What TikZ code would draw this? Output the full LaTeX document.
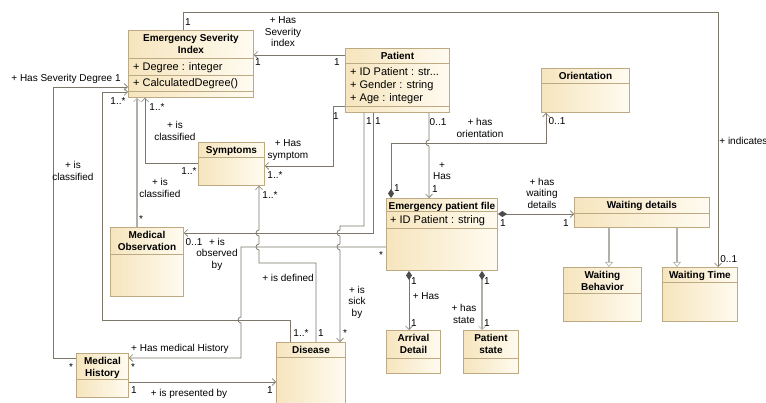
\documentclass[tikz,border=0pt]{standalone}
\usepackage{fontspec}
\setmainfont{Liberation Sans}
\usetikzlibrary{arrows.meta,calc}

\definecolor{boxline}{RGB}{190,170,130}
\definecolor{creamA}{RGB}{246,229,190}
\definecolor{creamB}{RGB}{255,251,240}
\definecolor{wire}{RGB}{125,119,105}
\definecolor{wirelight}{RGB}{178,175,168}

\begin{document}
\begin{tikzpicture}[x=1pt, y=-1pt,
    every node/.style={text=black},
    cls/.style={draw=boxline, line width=0.9pt, left color=creamA, right color=creamB,
                anchor=north west, inner sep=0pt},
    ttl/.style={anchor=north, inner sep=4.5pt, align=center,
                font=\fontsize{10}{12}\selectfont\bfseries},
    att/.style={anchor=base west, inner sep=0pt, font=\fontsize{11}{13}\selectfont},
    lbl/.style={inner sep=0pt, align=center, font=\fontsize{10}{11.5}\selectfont},
    sepline/.style={draw=boxline, line width=0.9pt},
    assoc/.style={draw=wire, line width=0.8pt,
                  -{Straight Barb[length=3.5pt,width=7pt,line width=0.6pt]}},
    comp/.style={assoc, {Diamond[length=9pt,width=6pt,color=black!70]}-{Straight Barb[length=3.5pt,width=7pt,line width=0.6pt]}},
    faint/.style={draw=wirelight, line width=1.3pt},
    gen/.style={draw=wirelight, line width=1.3pt,
                -{Triangle[open,length=5pt,width=8pt,line width=0.6pt,fill=white]}}]
  \useasboundingbox (0,0) rectangle (766,403);
  \clip (0,0) rectangle (766,403);

  % classes
  \node[cls, minimum width=125pt, minimum height=67pt,
        label={[ttl]north:{Emergency Severity\\Index}}] (esi) at (128,30) {};
  \node[cls, minimum width=104pt, minimum height=64pt, label={[ttl]north:Patient}] (pat) at (345,48) {};
  \node[cls, minimum width=88pt, minimum height=44pt, label={[ttl]north:Orientation}] (ori) at (541,68) {};
  \node[cls, minimum width=66pt, minimum height=43pt, label={[ttl]north:Symptoms}] (sym) at (198,142) {};
  \node[cls, minimum width=73pt, minimum height=69pt,
        label={[ttl]north:{Medical\\Observation}}] (mo) at (110,227) {};
  \node[cls, minimum width=111pt, minimum height=72pt,
        label={[ttl]north:Emergency patient file}] (epf) at (386,198) {};
  \node[cls, minimum width=135pt, minimum height=30pt, label={[ttl]north:Waiting details}] (wd) at (574,197) {};
  \node[cls, minimum width=78pt, minimum height=54pt,
        label={[ttl]north:{Waiting\\Behavior}}] (wb) at (563,267) {};
  \node[cls, minimum width=75pt, minimum height=54pt, label={[ttl]north:Waiting Time}] (wt) at (662,267) {};
  \node[cls, minimum width=54pt, minimum height=43pt,
        label={[ttl]north:{Arrival\\Detail}}] (ad) at (386,330) {};
  \node[cls, minimum width=55pt, minimum height=43pt,
        label={[ttl]north:{Patient\\state}}] (ps) at (463,330) {};
  \node[cls, minimum width=69pt, minimum height=70pt, label={[ttl]north:Disease}] (dis) at (276,342) {};
  \node[cls, minimum width=52pt, minimum height=44pt,
        label={[ttl]north:{Medical\\History}}] (mh) at (76,353) {};

  \foreach \n/\y in {esi/58, esi/75, esi/91, pat/63, pat/106, ori/83, sym/157, mo/254,
                     epf/211, epf/228, wd/213, wb/293, wt/282, ad/358, ps/358, dis/357, mh/379}
    \draw[sepline] (\n.west |- 0,\y) -- (\n.east |- 0,\y);

  % attributes
  \node[att] (esi-a1) at (133,71) {+ Degree : integer};
  \node[att] (esi-a2) at (133,87) {+ CalculatedDegree()};
  \node[att] (pat-a1) at (350,76) {+ ID Patient : str...};
  \node[att] (pat-a2) at (350,89) {+ Gender : string};
  \node[att] (pat-a3) at (350,102) {+ Age : integer};
  \node[att] (epf-a1) at (390,224) {+ ID Patient : string};

  % associations
  \draw[assoc] (pat.west |- 0,55) -- (esi.east |- 0,55)
    node[lbl] at (258,62) {1} node[lbl] at (337,62) {1}
    node[lbl] at (283,32) {+ Has\\Severity\\index};
  \draw[assoc] (esi.north -| 183,0) |- (718,12) -- (wt.north -| 718,0)
    node[lbl] at (188,22) {1} node[lbl, anchor=west] at (719,141) {+ indicates}
    node[lbl, anchor=west] at (720,259) {0..1};
  \draw[assoc] (mh.west |- 0,358) -| (53,87) -- (esi.west |- 0,87)
    node[lbl, anchor=west] at (11,79) {+ Has Severity Degree 1}
    node[lbl] at (73,171) {+ is\\classified} node[lbl] at (71,367) {*};
  \draw[assoc] (dis.north -| 290,0) |- (102,320) |- (esi.west |- 0,92)
    node[lbl] at (118,101) {1..*} node[lbl] at (301,333) {1..*};
  \draw[assoc] (sym.west |- 0,163) -| (esi.south -| 145,0)
    node[lbl] at (157,107) {1..*} node[lbl] at (189,171) {1..*}
    node[lbl] at (175,131) {+ is\\classified};
  \draw[assoc, faint] (mo.north -| 137,0) -- (esi.south -| 137,0)
    node[lbl] at (141,219) {*} node[lbl] at (160,188) {+ is\\classified};
  \draw[assoc] (pat.west |- 0,106) -| (333,166) -- (sym.east |- 0,166)
    node[lbl] at (336,116) {1} node[lbl] at (275,175) {1..*}
    node[lbl] at (288,150) {+ Has\\symptom};
  \draw[assoc] (pat.south -| 373,0) |- (mo.east |- 0,233)
    node[lbl] at (378,121) {1} node[lbl] at (194,242) {0..1}
    node[lbl] at (217,254) {+ is\\observed\\by};
  \draw[assoc] (pat.south -| 364,0) |- (340,226) -- (340,230)
    arc[start angle=90, end angle=270, radius=3pt] -- (340,244)
    arc[start angle=90, end angle=270, radius=3pt] -- (dis.north -| 340,0)
    node[lbl] at (369,121) {1} node[lbl] at (345,333) {*}
    node[lbl] at (357,302) {+ is\\sick\\by};
  \draw[assoc] (epf.west |- 0,247) -| (241,317)
    arc[start angle=90, end angle=270, radius=3pt] |- (mh.east |- 0,358)
    node[lbl] at (381,255) {*} node[lbl] at (180,349) {+ Has medical History}
    node[lbl] at (133,367) {*};
  \draw[assoc] (dis.north -| 316,0) |- (259,263) -- (259,250)
    arc[start angle=270, end angle=90, radius=3pt] -- (259,236)
    arc[start angle=270, end angle=90, radius=3pt] -- (sym.south -| 259,0)
    node[lbl] at (270,195) {1..*} node[lbl] at (288,278) {+ is defined}
    node[lbl] at (321,333) {1};
  \draw[assoc] (pat.south -| 429,0) -- (429,140)
    arc[start angle=90, end angle=270, radius=3pt] -- (epf.north -| 429,0)
    node[lbl] at (438,122) {0..1} node[lbl] at (442,171) {+\\Has}
    node[lbl] at (435,189) {1};
  \draw[assoc] (mh.east |- 0,382) -- (dis.west |- 0,382)
    node[lbl] at (134,390) {1} node[lbl] at (189,394) {+ is presented by}
    node[lbl] at (270,390) {1};

  % compositions
  \draw[comp] (epf.north -| 391,0) |- (546,143) -- (ori.south -| 546,0)
    node[lbl] at (397,188) {1} node[lbl] at (557,121) {0..1}
    node[lbl] at (480,128) {+ has\\orientation};
  \draw[comp] (epf.east |- 0,214) -- (wd.west |- 0,214)
    node[lbl] at (503,223) {1} node[lbl] at (566,223) {1}
    node[lbl] at (542,193) {+ has\\waiting\\details};
  \draw[comp] (epf.south -| 409,0) -- (ad.north -| 409,0)
    node[lbl] at (414,281) {1} node[lbl] at (426,296) {+ Has}
    node[lbl] at (414,323) {1};
  \draw[comp, faint] (epf.south -| 482,0) -- (ps.north -| 482,0)
    node[lbl] at (487,281) {1} node[lbl] at (464,314) {+ has\\state}
    node[lbl] at (487,323) {1};

  % generalizations
  \draw[gen] (wd.south -| 609,0) -- (wb.north -| 609,0);
  \draw[gen] (wd.south -| 677,0) -- (wt.north -| 677,0);
\end{tikzpicture}
\end{document}
